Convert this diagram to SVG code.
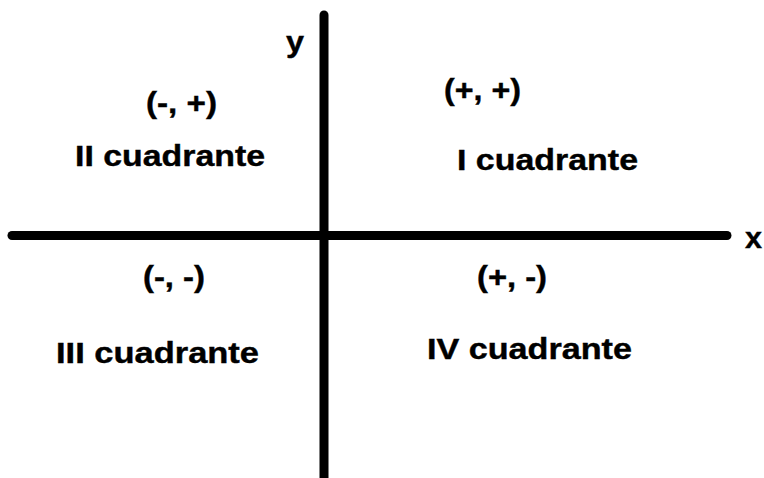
<svg xmlns="http://www.w3.org/2000/svg" width="764" height="478" viewBox="0 0 764 478">
<style>
.ax{stroke:#000;stroke-width:9;stroke-linecap:round;fill:none}
.t{font-family:"Liberation Sans",Arial,sans-serif;font-weight:bold;font-size:29px;fill:#000;stroke:#000;stroke-width:0.4}
</style>
<rect width="764" height="478" fill="#fff"/>
<g id="axes">
<line class="ax" x1="12" y1="235.5" x2="727" y2="235.5"/>
<line class="ax" x1="324" y1="15" x2="324" y2="490"/>
</g>
<g id="labels-axes">
<text class="t" x="286" y="52" textLength="18" lengthAdjust="spacingAndGlyphs">y</text>
<text class="t" x="745" y="248" textLength="17" lengthAdjust="spacingAndGlyphs">x</text>
</g>
<g id="q2">
<text class="t" x="146" y="113" textLength="71" lengthAdjust="spacingAndGlyphs">(-, +)</text>
<text class="t" x="75" y="166" textLength="190" lengthAdjust="spacingAndGlyphs">II cuadrante</text>
</g>
<g id="q1">
<text class="t" x="444" y="100" textLength="77" lengthAdjust="spacingAndGlyphs">(+, +)</text>
<text class="t" x="457" y="170" textLength="181" lengthAdjust="spacingAndGlyphs">I cuadrante</text>
</g>
<g id="q3">
<text class="t" x="143" y="287" textLength="62" lengthAdjust="spacingAndGlyphs">(-, -)</text>
<text class="t" x="56" y="363" textLength="203" lengthAdjust="spacingAndGlyphs">III cuadrante</text>
</g>
<g id="q4">
<text class="t" x="477" y="287" textLength="70" lengthAdjust="spacingAndGlyphs">(+, -)</text>
<text class="t" x="427" y="359" textLength="205" lengthAdjust="spacingAndGlyphs">IV cuadrante</text>
</g>
</svg>
